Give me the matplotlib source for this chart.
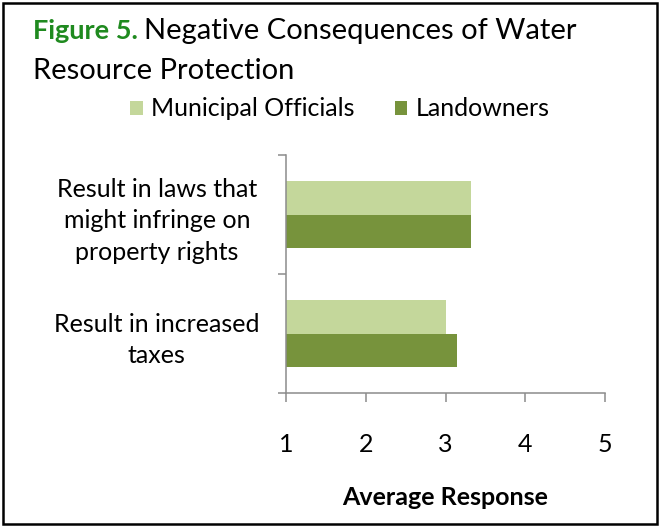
import matplotlib
matplotlib.use("Agg")
import matplotlib.pyplot as plt
from matplotlib.patches import Rectangle
import numpy as np

categories = ["Result in increased\ntaxes", "Result in laws that\nmight infringe on\nproperty rights"]
series_names = ["Municipal Officials", "Landowners"]
municipal = [3.01, 3.32]
landowners = [3.14, 3.32]
xticks = [1, 2, 3, 4, 5]

light = "#C4D79B"
dark = "#77933C"
axis_gray = "#8C8C8C"
title_green = "#1F8A1F"

plt.rcParams['font.family'] = ['Lato', 'DejaVu Sans']

fig = plt.figure(figsize=(6.6, 5.27), dpi=100)
ax = fig.add_axes([286/660, 1-393/527, (605-286)/660, (393-155)/527])

y = np.arange(len(categories))
h = 0.28
ax.barh(y + h/2, municipal, height=h, left=0, color=light, label=series_names[0])
ax.barh(y - h/2, landowners, height=h, left=0, color=dark, label=series_names[1])

ax.set_xlim(1, 5)
ax.set_ylim(-0.5, 1.5)
ax.set_xticks(xticks)
ax.set_xticklabels([str(t) for t in xticks], fontsize=18)
ax.tick_params(axis='x', direction='out', length=6.5, width=1.1, color=axis_gray, pad=22)

ax.set_yticks([-0.5, 0.5, 1.5])
ax.set_yticklabels([])
ax.set_yticks(y, minor=True)
ax.set_yticklabels(categories, minor=True, fontsize=18, ha='center', linespacing=1.44)
ax.tick_params(axis='y', which='major', direction='out', length=6, width=1.1, color=axis_gray)
ax.tick_params(axis='y', which='minor', length=0, pad=93)

for s in ['top', 'right']:
    ax.spines[s].set_visible(False)
for s in ['left', 'bottom']:
    ax.spines[s].set_color(axis_gray)
    ax.spines[s].set_linewidth(1.1)

ax.set_xlabel("Average Response", fontsize=18, fontweight='bold', labelpad=22)

# Title
t1 = fig.text(33/660, 1-31/527, "Figure 5.", fontsize=19.5, fontweight='bold', color=title_green,
              va='center', ha='left')
fig.canvas.draw()
bb = t1.get_window_extent()
fig.text((bb.x1 + 6)/660, 1-31/527, "Negative Consequences of Water", fontsize=21, color='black',
         va='center', ha='left')
fig.text(33/660, 1-71/527, "Resource Protection", fontsize=21, color='black',
         va='center', ha='left')

# Legend
leg = fig.legend(loc='center', bbox_to_anchor=(340/660, 1-109/527), ncol=2, frameon=False,
                 fontsize=18, handlelength=0.5, handleheight=0.5, columnspacing=1.6,
                 handletextpad=0.35)

# Figure border
fig.patches.append(Rectangle((0.005, 0.005), 0.99, 0.99, transform=fig.transFigure,
                             fill=False, edgecolor='black', linewidth=1.8))

fig.savefig("out.png", dpi=100)
